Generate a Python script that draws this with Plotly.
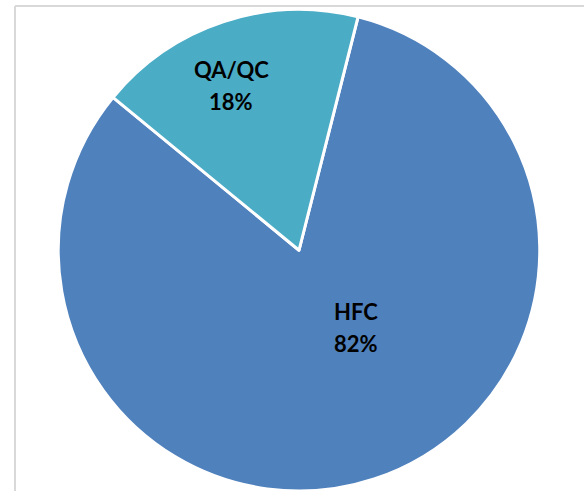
import plotly.graph_objects as go

# Share of work by category
categories = ["HFC", "QA/QC"]
values = [82, 18]
colors = ["#4F81BD", "#4BACC6"]

W, H = 584, 491

def px(x, y):
    """Pixel position -> paper coordinates."""
    return x / W, 1 - y / H

fig = go.Figure(
    go.Pie(
        labels=categories,
        values=values,
        sort=False,
        direction="clockwise",
        rotation=14.2,
        marker=dict(colors=colors, line=dict(color="white", width=3)),
        textinfo="none",
        hoverinfo="label+percent",
        domain=dict(x=[57.5 / W, 540.5 / W], y=[0, 1 - 9.5 / H]),
        showlegend=False,
    )
)

total = sum(values)
# label positions (name line, percent line) in pixels
label_pos = {
    "HFC": ((355.5, 311), (355.5, 343.5)),
    "QA/QC": ((231, 69), (231, 101)),
}
font = dict(family="Lato, 'Open Sans', sans-serif", size=22, color="black")
annotations = []
for cat, val in zip(categories, values):
    (x1, y1), (x2, y2) = label_pos[cat]
    for (x, y), txt in (((x1, y1), cat), ((x2, y2), f"{round(100 * val / total)}%")):
        ax, ay = px(x, y)
        annotations.append(dict(
            x=ax, y=ay, xref="paper", yref="paper", text=f"<b>{txt}</b>",
            showarrow=False, xanchor="center", yanchor="middle", font=font,
        ))

# chart-area frame (left and top edges visible)
border = dict(color="#D9D9D9", width=2)
shapes = [
    dict(type="line", xref="paper", yref="paper", x0=15 / W, x1=15 / W, y0=0, y1=1 - 6 / H, line=border),
    dict(type="line", xref="paper", yref="paper", x0=15 / W, x1=1, y0=1 - 6 / H, y1=1 - 6 / H, line=border),
]

fig.update_layout(
    width=W, height=H,
    margin=dict(l=0, r=0, t=0, b=0),
    paper_bgcolor="white",
    plot_bgcolor="white",
    annotations=annotations,
    shapes=shapes,
)

fig.write_html("out.html")
